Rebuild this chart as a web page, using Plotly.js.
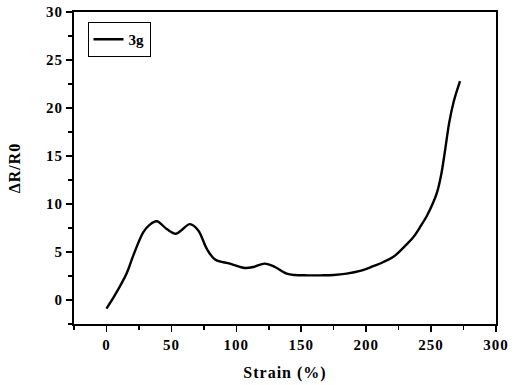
<!DOCTYPE html>
<html>
<head>
<meta charset="utf-8">
<script src="https://cdn.plot.ly/plotly-3.0.1.min.js"></script>
<style>
html,body{margin:0;padding:0;background:#fff;}
#chart{width:520px;height:385px;}
.xtick text, .ytick text, .xtitle, .ytitle {letter-spacing: 1px;}
</style>
</head>
<body>
<div id="chart"></div>
<script>
const seriesName = "3g";
const strain = [0, 6.5, 15.5, 20.7, 28.4, 33, 38.7, 46.4, 53.5, 58, 64.3, 70.7, 77.2, 83.6, 95.1, 106.7, 113.1, 122.1, 129.8, 138.8, 145, 155, 165, 175, 185, 195.3, 205, 213.3, 221, 228.7, 236.4, 241.5, 246.5, 251.8, 255, 258, 261, 264, 267.5, 272.3];
const deltaR = [-0.9, 0.5, 2.75, 4.65, 7.07, 7.8, 8.2, 7.4, 6.9, 7.3, 7.9, 7.25, 5.35, 4.23, 3.79, 3.34, 3.44, 3.79, 3.44, 2.75, 2.6, 2.57, 2.57, 2.6, 2.75, 3.03, 3.5, 3.96, 4.5, 5.45, 6.55, 7.6, 8.7, 10.2, 11.4, 13.2, 15.8, 18.5, 20.7, 22.8];
const xTicks = [0, 50, 100, 150, 200, 250, 300];
const yTicks = [0, 5, 10, 15, 20, 25, 30];

const fam = "Liberation Serif";
const trace = {
  x: strain, y: deltaR, name: seriesName, type: "scatter", mode: "lines",
  line: {color: "#000", width: 2.4, shape: "spline", smoothing: 1},
  showlegend: true
};
const axisCommon = {
  showline: true, linecolor: "#000", linewidth: 2, mirror: true,
  ticks: "outside", ticklen: 6, tickwidth: 1.5, tickcolor: "#000",
  showgrid: false, zeroline: false,
  tickfont: {family: fam, size: 15, color: "#000", weight: 700}
};
const layout = {
  width: 520, height: 385,
  margin: {l: 74, r: 24, t: 12, b: 61},
  paper_bgcolor: "#fff", plot_bgcolor: "#fff",
  font: {family: fam, color: "#000"},
  xaxis: Object.assign({}, axisCommon, {
    range: [-25, 300], tickvals: xTicks,
    minor: {tickvals: [-25, 25, 75, 125, 175, 225, 275], ticks: "outside", ticklen: 4, tickwidth: 1.5, tickcolor: "#000"},
    title: {text: "Strain (%)", font: {family: fam, size: 16, color: "#000", weight: 700}, standoff: 15}
  }),
  yaxis: Object.assign({}, axisCommon, {
    range: [-2.5, 30], tickvals: yTicks,
    minor: {tickvals: [-2.5, 2.5, 7.5, 12.5, 17.5, 22.5, 27.5], ticks: "outside", ticklen: 4, tickwidth: 1.5, tickcolor: "#000"},
    title: {text: "ΔR/R0", font: {family: fam, size: 16, color: "#000", weight: 700}, standoff: 21}
  }),
  legend: {
    x: 0.032, y: 0.968, xanchor: "left", yanchor: "top",
    bordercolor: "#000", borderwidth: 1, bgcolor: "#fff",
    font: {family: fam, size: 15, color: "#000", weight: 700}
  }
};
Plotly.newPlot("chart", [trace], layout, {displayModeBar: false, staticPlot: true});
</script>
</body>
</html>
